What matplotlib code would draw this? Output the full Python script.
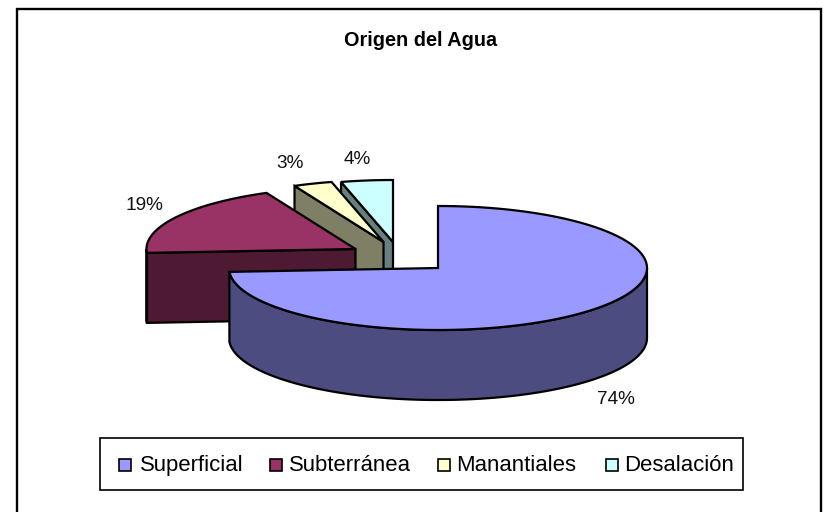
import matplotlib
matplotlib.use("Agg")
import matplotlib.pyplot as plt
import numpy as np
from matplotlib.patches import Polygon, Rectangle

plt.rcParams["font.family"] = ["Liberation Sans", "DejaVu Sans"]

categories = ["Superficial", "Subterránea", "Manantiales", "Desalación"]
values = [74, 19, 3, 4]
labels = ["74%", "19%", "3%", "4%"]

top_colors = ["#9999FF", "#993366", "#FFFFCC", "#CCFFFF"]
side_colors = ["#4C4C80", "#4D1933", "#7F7F66", "#668080"]

# pie geometry in pixels, each slice has its own exploded centre
centers = [(438, 268), (355.5, 249), (383.5, 242), (393, 242)]
rx, ry, depth = 209, 62, 70
label_pos = [(616, 400), (144, 206), (290, 163), (357, 160)]
legend_box_x = [119, 270, 438, 606]
legend_text_x = [140, 289, 456, 624]


def ell(c, ang):
    # angle in degrees, clockwise from 12 o'clock
    a = np.radians(ang)
    return np.column_stack((c[0] + rx * np.sin(a), c[1] - ry * np.cos(a)))


fig = plt.figure(figsize=(8.24, 5.12), dpi=100)
ax = fig.add_axes([0, 0, 1, 1])
ax.set_xlim(0, 824)
ax.set_ylim(512, 0)
ax.axis("off")

# chart frame, bottom runs off the picture
ax.plot([17.5, 17.5, 821.5, 821.5], [520, 9, 9, 520], color="black", lw=1.7, solid_joinstyle="miter")

edges = np.cumsum([0] + values) * 3.6
lw = 1.6

# back slices first so the big one covers them
for i in [3, 2, 1, 0]:
    c = centers[i]
    start, end = edges[i], edges[i + 1]
    z = 5 - i

    # cut face on the start edge, only slices on the left show it
    if i > 0:
        p = ell(c, [start])[0]
        face = [c, p, (p[0], p[1] + depth), (c[0], c[1] + depth)]
        ax.add_patch(Polygon(face, closed=True, fc=side_colors[i], ec="black", lw=lw, zorder=z))

    # outer wall, front half only
    w0, w1 = max(start, 90), min(end, 270)
    if w1 > w0:
        arc = ell(c, np.linspace(w0, w1, 120))
        wall = np.vstack((arc, arc[::-1] + [0, depth]))
        ax.add_patch(Polygon(wall, closed=True, fc=side_colors[i], ec="black", lw=lw, zorder=z))

    arc = ell(c, np.linspace(start, end, 200))
    top = np.vstack(([c], arc))
    ax.add_patch(Polygon(top, closed=True, fc=top_colors[i], ec="black", lw=lw, joinstyle="miter", zorder=z))

ax.text(420.5, 40.5, "Origen del Agua", fontsize=14.3, fontweight="bold", ha="center", va="center", zorder=10)

for lab, pos in zip(labels, label_pos):
    ax.text(pos[0], pos[1], lab, fontsize=13.7, color="#111111", ha="center", va="center", zorder=10)

# legend
ax.add_patch(Rectangle((100, 438), 643, 52, fc="white", ec="black", lw=1.2, zorder=8))
for i, name in enumerate(categories):
    ax.add_patch(Rectangle((legend_box_x[i], 458.5), 12, 12, fc=top_colors[i], ec="black", lw=1.2, zorder=9))
    ax.text(legend_text_x[i], 465.5, name, fontsize=15.9, ha="left", va="center", zorder=10)

fig.savefig("out.png", dpi=100)
